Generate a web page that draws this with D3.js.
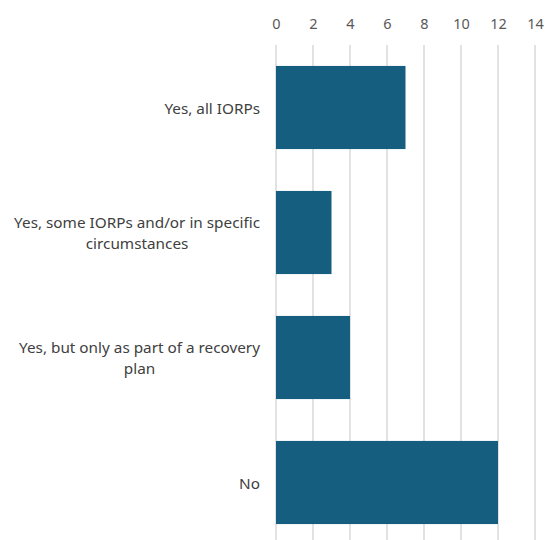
<!DOCTYPE html>
<html>
<head>
<meta charset="utf-8">
<script src="https://cdn.jsdelivr.net/npm/d3@7"></script>
<style>
  html, body { margin: 0; padding: 0; background: #fff; }
  svg { display: block; }
</style>
</head>
<body>
<div id="chart"></div>
<script>
// Responses per category (number of authorities)
const categories = [
  ["Yes, all IORPs"],
  ["Yes, some IORPs and/or in specific", "circumstances"],
  ["Yes, but only as part of a recovery", "plan"],
  ["No"]
];
const values = [7, 3, 4, 12];
const tickValues = [0, 2, 4, 6, 8, 10, 12, 14];

const width = 546, height = 540;
const margin = { top: 45, right: 11, bottom: -5, left: 276 };
const fontFamily = "'Noto Sans', sans-serif";

const svg = d3.select("#chart").append("svg")
  .attr("width", width).attr("height", height);

const x = d3.scaleLinear()
  .domain([0, 14])
  .range([margin.left, width - margin.right]);

const y = d3.scaleBand()
  .domain(d3.range(categories.length))
  .range([margin.top, height - margin.bottom])
  .paddingInner(0.335)
  .paddingOuter(0.1675);

// vertical gridlines
svg.append("g")
  .selectAll("line")
  .data(tickValues)
  .join("line")
  .attr("x1", d => x(d)).attr("x2", d => x(d))
  .attr("y1", margin.top).attr("y2", height)
  .attr("stroke", "#d9d9d9")
  .attr("stroke-width", 1.5);

// top axis labels
const xAxis = d3.axisTop(x).tickValues(tickValues).tickSize(0).tickPadding(0);
const gx = svg.append("g")
  .attr("transform", "translate(0,29)")
  .call(xAxis);
gx.select(".domain").remove();
gx.selectAll("text")
  .attr("font-family", fontFamily)
  .attr("font-size", 14.5)
  .attr("fill", "#595959");

// bars
svg.append("g")
  .selectAll("rect")
  .data(values)
  .join("rect")
  .attr("x", x(0))
  .attr("y", (d, i) => y(i))
  .attr("width", d => x(d) - x(0))
  .attr("height", y.bandwidth())
  .attr("fill", "#165e80");

// category labels, each block centred on its widest line and right-aligned at the axis
const labelRight = 260;
const lineH = 21;
const gl = svg.append("g")
  .attr("font-family", fontFamily)
  .attr("font-size", 15.3)
  .attr("fill", "#404040");

categories.forEach((lines, i) => {
  const cy = y(i) + y.bandwidth() / 2;
  const t = gl.append("text").attr("text-anchor", "middle").attr("dominant-baseline", "central");
  lines.forEach((ln, j) => {
    t.append("tspan").text(ln)
      .attr("y", cy + (j - (lines.length - 1) / 2) * lineH);
  });
  let maxW = 0;
  t.selectAll("tspan").each(function () {
    maxW = Math.max(maxW, this.getComputedTextLength());
  });
  t.selectAll("tspan").attr("x", labelRight - maxW / 2);
});
</script>
</body>
</html>
